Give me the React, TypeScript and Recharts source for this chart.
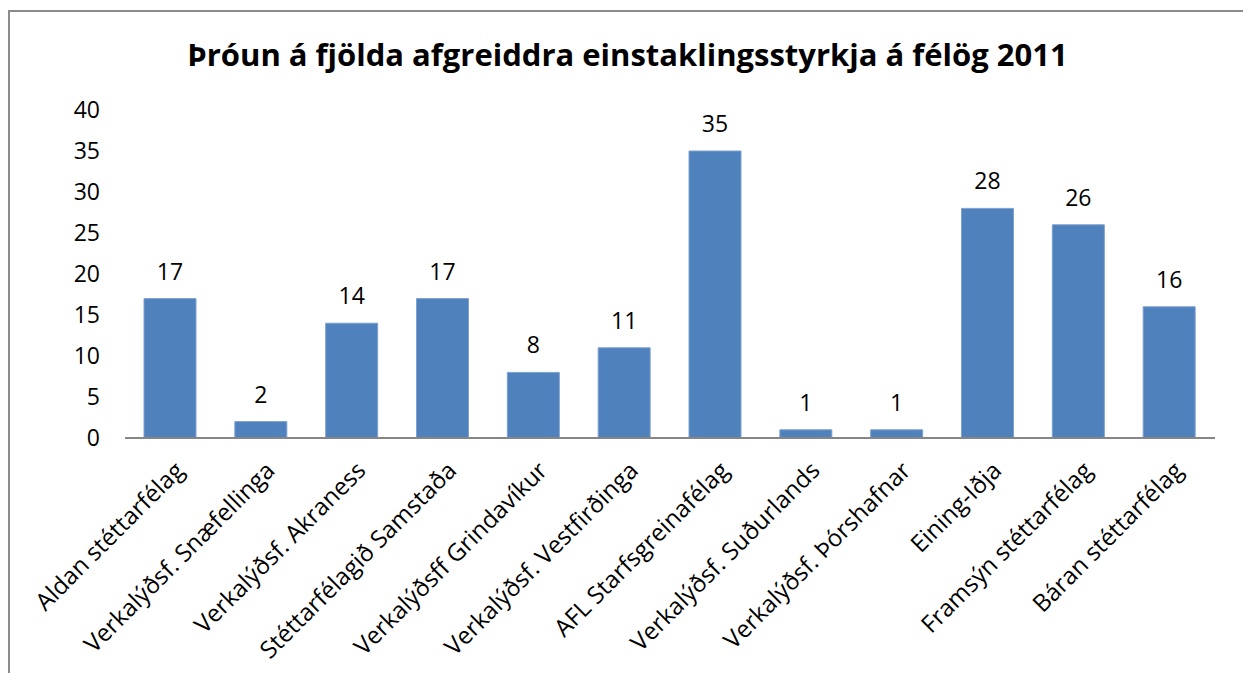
import React from "react";
import { BarChart, Bar, XAxis, YAxis, LabelList } from "recharts";

// Félög og fjöldi afgreiddra einstaklingsstyrkja 2011
const categories = [
  "Aldan stéttarfélag",
  "Verkalýðsf. Snæfellinga",
  "Verkalýðsf. Akraness",
  "Stéttarfélagið Samstaða",
  "Verkalýðsff Grindavíkur",
  "Verkalýðsf. Vestfirðinga",
  "AFL Starfsgreinafélag",
  "Verkalýðsf. Suðurlands",
  "Verkalýðsf. Þórshafnar",
  "Eining-Iðja",
  "Framsýn stéttarfélag",
  "Báran stéttarfélag",
];
const counts = [17, 2, 14, 17, 8, 11, 35, 1, 1, 28, 26, 16];
const yTicks = [0, 5, 10, 15, 20, 25, 30, 35, 40];

const title = "Þróun á fjölda afgreiddra einstaklingsstyrkja á félög 2011";

const FONT = "'Open Sans', 'DejaVu Sans', sans-serif";

const data = categories.map((name, i) => ({ name, count: counts[i] }));

function CategoryTick(props: any) {
  const { x, y, payload } = props;
  return (
    <g transform={`translate(${x + 15},${y + 26})`}>
      <text
        x={0}
        y={0}
        textAnchor="end"
        transform="rotate(-45)"
        fontSize={24}
        fontFamily={FONT}
        fill="#000"
      >
        {payload.value}
      </text>
    </g>
  );
}

export default function App() {
  return (
    <div
      style={{
        position: "absolute",
        left: 0,
        top: 0,
        width: 1243,
        height: 673,
        background: "#fff",
        overflow: "hidden",
      }}
    >
      {/* chart frame, cut off at the right and bottom */}
      <div
        style={{
          position: "absolute",
          left: 8,
          top: 10,
          width: 1300,
          height: 700,
          borderTop: "2px solid #8c8c8c",
          borderLeft: "2px solid #8c8c8c",
        }}
      />
      <div
        style={{
          position: "absolute",
          left: 0,
          top: 33,
          width: 1255,
          textAlign: "center",
          fontFamily: FONT,
          fontWeight: 700,
          fontSize: 31,
          lineHeight: "42px",
          color: "#000",
        }}
      >
        {title}
      </div>
      <div style={{ position: "absolute", left: 0, top: 0 }}>
        <BarChart
          width={1243}
          height={673}
          data={data}
          margin={{ top: 110, right: 28, bottom: 5, left: 0 }}
          barSize={52}
        >
          <XAxis
            dataKey="name"
            interval={0}
            height={230}
            tickLine={false}
            axisLine={{ stroke: "#868686", strokeWidth: 2 }}
            tick={<CategoryTick />}
          />
          <YAxis
            width={125}
            domain={[0, 40]}
            ticks={yTicks}
            axisLine={false}
            tickLine={false}
            tickSize={0}
            tickMargin={25}
            tick={{ fontSize: 23, fontFamily: FONT, fill: "#000" }}
          />
          <Bar
            dataKey="count"
            fill="#4f81bd"
            stroke="#7da2d1"
            strokeWidth={1}
            isAnimationActive={false}
          >
            <LabelList
              dataKey="count"
              position="top"
              offset={19}
              fontSize={23}
              fontFamily={FONT}
              fill="#000"
            />
          </Bar>
        </BarChart>
      </div>
    </div>
  );
}
